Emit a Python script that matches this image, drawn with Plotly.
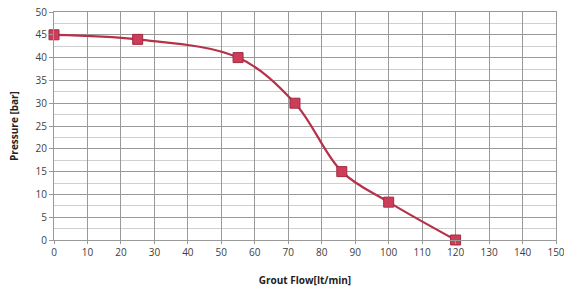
import plotly.graph_objects as go

flow = [0, 25, 55, 72, 86, 100, 120]
pressure = [45, 44, 40, 30, 15, 8.3, 0]
x_ticks = list(range(0, 151, 10))
y_ticks = list(range(0, 51, 5))

fig = go.Figure()
fig.add_trace(go.Scatter(
    x=flow, y=pressure, mode="lines+markers",
    line=dict(color="#B5324A", width=2.2, shape="spline", smoothing=1),
    marker=dict(symbol="square", size=10, color="#CC3D5A", line=dict(color="#A52A40", width=1)),
    showlegend=False, cliponaxis=False,
))

fig.update_layout(
    width=564, height=288,
    margin=dict(l=54, r=8, t=12, b=48, autoexpand=False),
    paper_bgcolor="white", plot_bgcolor="white",
    font=dict(family="Open Sans, Liberation Sans, sans-serif", size=10, color="#404040"),
)
fig.update_xaxes(
    range=[0, 150], tickvals=x_ticks, ticktext=[str(v) for v in x_ticks],
    showgrid=True, gridcolor="#999999", gridwidth=1,
    showline=True, linecolor="#999999", mirror=True,
    zeroline=False, ticks="outside", ticklen=3, tickcolor="#999999",
    automargin=False, ticklabeloverflow="allow",
    title=dict(text="<b>Grout Flow[lt/min]</b>", font=dict(size=10, color="#222"), standoff=18),
)
fig.update_yaxes(
    range=[0, 50], tickvals=y_ticks, ticktext=[str(v) for v in y_ticks],
    showgrid=True, gridcolor="#999999", gridwidth=1,
    minor=dict(dtick=2.5, showgrid=True, gridcolor="#cfcfcf", gridwidth=1),
    showline=True, linecolor="#999999", mirror=True,
    zeroline=False, ticks="outside", ticklen=4, tickcolor="#999999",
    automargin=False, ticklabeloverflow="allow",
    title=dict(text="<b>Pressure [bar]</b>", font=dict(size=10, color="#222"), standoff=15),
)

fig.write_html("out.html", config={"displayModeBar": False},
               post_script="document.body.style.margin='0px';")
